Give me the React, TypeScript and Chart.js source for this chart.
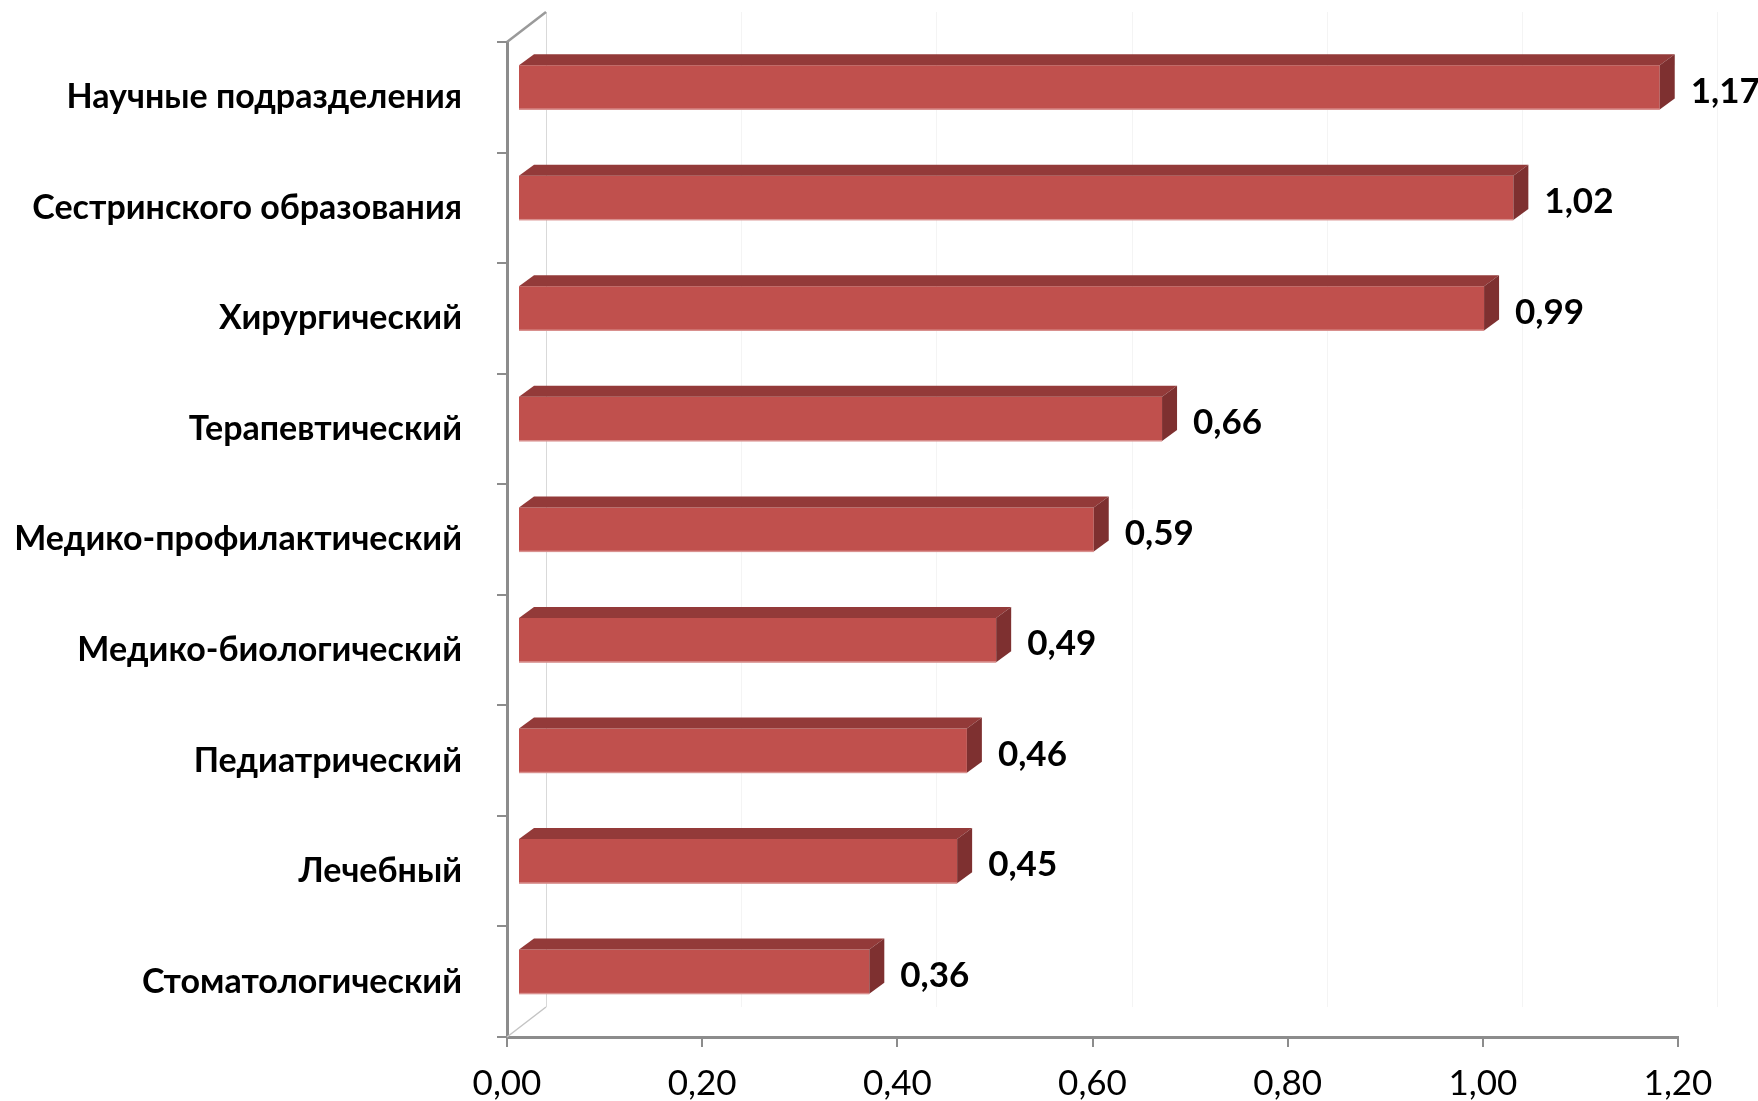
import React, { useEffect, useRef } from "react";
import { Chart, registerables } from "chart.js";

Chart.register(...registerables);

const categories: string[] = [
  "Научные подразделения",
  "Сестринского образования",
  "Хирургический",
  "Терапевтический",
  "Медико-профилактический",
  "Медико-биологический",
  "Педиатрический",
  "Лечебный",
  "Стоматологический",
];

const values: number[] = [1.17, 1.02, 0.99, 0.66, 0.59, 0.49, 0.46, 0.45, 0.36];

const xTickMin = 0;
const xTickMax = 1.2;
const xTickStep = 0.2;

const fmt = (v: number) => Number(v).toFixed(2).replace(".", ",");

const DX = 15; // bar depth x
const DY = 11; // bar depth y
const SHIFT_X = 11;
const SHIFT_Y = -10;
const WALL_X = 39;
const WALL_Y = 30;

const bar3d = {
  id: "bar3d",
  beforeDatasetsDraw(chart: any) {
    const { ctx, chartArea, scales } = chart;
    const x = scales.x;
    ctx.save();
    ctx.lineWidth = 1;
    for (let v = xTickMin; v <= xTickMax + 1e-9; v += xTickStep) {
      const px = Math.round(x.getPixelForValue(v)) + WALL_X + 0.5;
      ctx.strokeStyle = v === 0 ? "#d9d9d9" : "#f4f4f4";
      ctx.beginPath();
      ctx.moveTo(px, chartArea.top - WALL_Y);
      ctx.lineTo(px, chartArea.bottom - WALL_Y);
      ctx.stroke();
    }
    ctx.strokeStyle = "#9a9a9a";
    ctx.lineWidth = 2.5;
    ctx.beginPath();
    ctx.moveTo(chartArea.left, chartArea.top);
    ctx.lineTo(chartArea.left + WALL_X, chartArea.top - WALL_Y);
    ctx.stroke();
    ctx.strokeStyle = "#c4c4c4";
    ctx.lineWidth = 1.5;
    ctx.beginPath();
    ctx.moveTo(chartArea.left, chartArea.bottom);
    ctx.lineTo(chartArea.left + WALL_X, chartArea.bottom - WALL_Y);
    ctx.stroke();
    ctx.restore();

    ctx.save();
    ctx.translate(SHIFT_X, SHIFT_Y);
  },
  afterDatasetsDraw(chart: any) {
    const { ctx } = chart;
    const meta = chart.getDatasetMeta(0);
    const data = chart.data.datasets[0].data as number[];
    meta.data.forEach((bar: any, i: number) => {
      const { x, y, base, height } = bar.getProps(["x", "y", "base", "height"], true);
      const top = y - height / 2;
      const bottom = y + height / 2;
      ctx.fillStyle = "#933a39";
      ctx.beginPath();
      ctx.moveTo(base, top);
      ctx.lineTo(base + DX, top - DY);
      ctx.lineTo(x + DX, top - DY);
      ctx.lineTo(x, top);
      ctx.closePath();
      ctx.fill();
      ctx.fillStyle = "#7e3030";
      ctx.beginPath();
      ctx.moveTo(x, top);
      ctx.lineTo(x + DX, top - DY);
      ctx.lineTo(x + DX, bottom - DY);
      ctx.lineTo(x, bottom);
      ctx.closePath();
      ctx.fill();
      ctx.fillStyle = "#d9908e";
      ctx.fillRect(base, bottom - 1, x - base, 1.5);
      ctx.fillStyle = "#000";
      ctx.font = "bold 35px Lato, 'Noto Sans', sans-serif";
      ctx.textAlign = "left";
      ctx.textBaseline = "middle";
      ctx.fillText(fmt(data[i]), x + DX + 16, y + 4);
    });
    ctx.restore();
  },
};

export default function App() {
  const ref = useRef<HTMLCanvasElement | null>(null);
  useEffect(() => {
    if (!ref.current) return;
    const chart = new Chart(ref.current, {
      type: "bar",
      data: {
        labels: categories,
        datasets: [
          {
            data: values,
            backgroundColor: "#c0504d",
            borderWidth: 0,
            barPercentage: 0.4,
            categoryPercentage: 1,
          },
        ],
      },
      options: {
        indexAxis: "y",
        animation: false,
        responsive: true,
        maintainAspectRatio: false,
        devicePixelRatio: 1,
        layout: { padding: { top: 42, right: 80, bottom: 0, left: 0 } },
        plugins: {
          legend: { display: false },
          tooltip: { enabled: false },
        },
        scales: {
          x: {
            type: "linear",
            min: xTickMin,
            max: xTickMax,
            afterFit: (s: any) => {
              s.height = 64;
              s.paddingLeft = 0;
              s.paddingRight = 0;
            },
            ticks: {
              stepSize: xTickStep,
              color: "#000",
              padding: 16,
              font: { family: "Lato, 'Noto Sans', sans-serif", size: 35 },
              callback: (v: any) => fmt(Number(v)),
            },
            grid: {
              drawOnChartArea: false,
              drawTicks: true,
              tickLength: 10,
              color: "#8c8c8c",
              lineWidth: 2,
            },
            border: { display: true, color: "#8c8c8c", width: 3 },
          },
          y: {
            type: "category",
            afterFit: (s: any) => {
              s.width = 507;
              s.paddingTop = 0;
              s.paddingBottom = 0;
            },
            ticks: {
              color: "#000",
              padding: 35,
              font: { family: "Lato, 'Noto Sans', sans-serif", size: 34, weight: "bold" },
            },
            grid: {
              drawOnChartArea: false,
              drawTicks: true,
              tickLength: 10,
              color: "#8c8c8c",
              lineWidth: 2,
              offset: true,
            },
            border: { display: true, color: "#8c8c8c", width: 3 },
          },
        },
      },
      plugins: [bar3d],
    } as any);
    return () => chart.destroy();
  }, []);
  return (
    <div style={{ position: "fixed", left: 0, top: 0, width: 1758, height: 1101, background: "#fff" }}>
      <canvas ref={ref} />
    </div>
  );
}
